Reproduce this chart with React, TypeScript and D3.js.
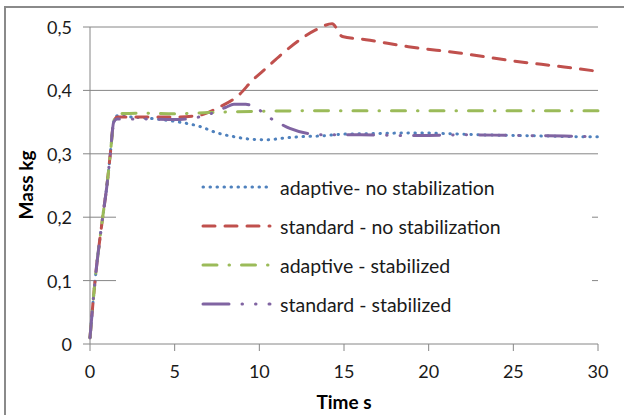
import React from "react";
import * as d3 from "d3";

const seriesNames = [
  "adaptive- no stabilization",
  "standard - no stabilization",
  "adaptive - stabilized",
  "standard - stabilized",
];

const adaptiveNoStabT = [0, 0.3, 0.75, 1.0, 1.2, 1.4, 1.6, 2.5, 3.5, 4.5, 5.5, 6.5, 7.5, 8.5, 9.5, 10.4, 11.5, 12.5, 13.5, 15, 17, 19, 21, 23, 25, 27, 29, 30];
const adaptiveNoStabV = [0.01, 0.1, 0.2, 0.25, 0.3, 0.35, 0.36, 0.358, 0.356, 0.353, 0.349, 0.343, 0.333, 0.327, 0.323, 0.322, 0.325, 0.327, 0.328, 0.331, 0.332, 0.333, 0.332, 0.33, 0.329, 0.328, 0.327, 0.327];

const standardNoStabT = [0, 0.3, 0.75, 1.0, 1.2, 1.4, 1.6, 3, 5, 6.5, 7.5, 8.8, 9.6, 10.4, 11.4, 12.4, 13.3, 14.3, 14.9, 16.3, 18.8, 21.8, 25.1, 28, 30];
const standardNoStabV = [0.01, 0.1, 0.2, 0.25, 0.3, 0.35, 0.358, 0.358, 0.358, 0.361, 0.372, 0.393, 0.416, 0.435, 0.459, 0.48, 0.495, 0.505, 0.485, 0.48, 0.469, 0.459, 0.446, 0.437, 0.43];

const adaptiveStabT = [0, 0.3, 0.75, 1.0, 1.2, 1.4, 1.6, 3, 5, 7, 10, 15, 20, 25, 30];
const adaptiveStabV = [0.01, 0.1, 0.2, 0.25, 0.3, 0.35, 0.363, 0.364, 0.363, 0.365, 0.367, 0.368, 0.368, 0.368, 0.368];

const standardStabT = [0, 0.3, 0.75, 1.0, 1.2, 1.4, 1.6, 3, 5, 6, 7, 8, 8.5, 9.2, 10, 10.6, 11.2, 11.8, 12.9, 14, 16, 18, 20, 22, 25, 28, 30];
const standardStabV = [0.01, 0.1, 0.2, 0.25, 0.3, 0.35, 0.355, 0.355, 0.354, 0.356, 0.362, 0.373, 0.378, 0.378, 0.369, 0.357, 0.348, 0.34, 0.332, 0.33, 0.33, 0.329, 0.329, 0.33, 0.329, 0.328, 0.327];

const xTicks = [0, 5, 10, 15, 20, 25, 30];
const yTicks = [0, 0.1, 0.2, 0.3, 0.4, 0.5];
const xTickLabels = ["0", "5", "10", "15", "20", "25", "30"];
const yTickLabels = ["0", "0,1", "0,2", "0,3", "0,4", "0,5"];

const colors = ["#4F81BD", "#C0504D", "#9BBB59", "#8064A2"];
const dashes = ["0.5 6.5", "12 10", "14 12 0.5 12", "26 13 0.5 13 0.5 13"];

const FONT = "Lato, 'DejaVu Sans', sans-serif";

export default function App() {
  const W = 624, H = 415;
  const x = d3.scaleLinear().domain([0, 30]).range([90, 598]);
  const y = d3.scaleLinear().domain([0, 0.5]).range([344, 27]);
  const times = [adaptiveNoStabT, standardNoStabT, adaptiveStabT, standardStabT];
  const vals = [adaptiveNoStabV, standardNoStabV, adaptiveStabV, standardStabV];
  const line = d3
    .line<[number, number]>()
    .x((d) => x(d[0]))
    .y((d) => y(d[1]))
    .curve(d3.curveMonotoneX);
  const legendY = [187, 226, 265, 304];
  const grey = "#868686";

  return (
    <svg
      width={W}
      height={H}
      style={{ position: "absolute", left: 0, top: 0, background: "#fff" }}
      fontFamily={FONT}
    >
      <rect x={0} y={0} width={W} height={H} fill="#fff" />
      <rect x={5} y={7} width={W + 20} height={H + 20} fill="none" stroke="#8a8a8a" strokeWidth={2} />
      {yTicks.map((t) =>
        t === 0 ? null : (
          <line key={"g" + t} x1={x(0)} x2={x(30)} y1={y(t)} y2={y(t)} stroke={grey} strokeWidth={1} />
        )
      )}
      <line x1={x(0)} x2={x(0)} y1={y(0)} y2={y(0.5)} stroke={grey} strokeWidth={1} />
      <line x1={x(0)} x2={x(30)} y1={y(0)} y2={y(0)} stroke={grey} strokeWidth={1} />
      {yTicks.map((t, i) => (
        <g key={"yt" + t}>
          <line x1={x(0) - 7} x2={x(0)} y1={y(t)} y2={y(t)} stroke={grey} strokeWidth={1} />
          <text x={72} y={y(t)} textAnchor="end" dominantBaseline="central" fontSize={18} fill="#1a1a1a">
            {yTickLabels[i]}
          </text>
        </g>
      ))}
      {xTicks.map((t, i) => (
        <g key={"xt" + t}>
          <line x1={x(t)} x2={x(t)} y1={y(0)} y2={y(0) + 7} stroke={grey} strokeWidth={1} />
          <text x={x(t)} y={371} textAnchor="middle" dominantBaseline="central" fontSize={18} fill="#1a1a1a">
            {xTickLabels[i]}
          </text>
        </g>
      ))}
      {times.map((ts, si) => (
        <path
          key={"s" + si}
          d={line(ts.map((t, j) => [t, vals[si][j]] as [number, number])) || ""}
          fill="none"
          stroke={colors[si]}
          strokeWidth={3}
          strokeDasharray={dashes[si]}
          strokeLinecap="round"
          strokeLinejoin="round"
        />
      ))}
      <rect x={116} y={162} width={476} height={162} fill="#fff" />
      {seriesNames.map((n, i) => (
        <g key={"l" + i}>
          <line
            x1={203}
            x2={270}
            y1={legendY[i]}
            y2={legendY[i]}
            stroke={colors[i]}
            strokeWidth={3}
            strokeDasharray={dashes[i]}
            strokeLinecap="round"
          />
          <text x={280} y={legendY[i]} dominantBaseline="central" fontSize={19.5} fill="#1a1a1a">
            {n}
          </text>
        </g>
      ))}
      <text x={344} y={401} textAnchor="middle" dominantBaseline="central" fontSize={19} fontWeight="bold" fill="#000">
        Time s
      </text>
      <text
        transform={`translate(25,185) rotate(-90)`}
        textAnchor="middle"
        dominantBaseline="central"
        fontSize={19}
        fontWeight="bold"
        fill="#000"
      >
        Mass kg
      </text>
    </svg>
  );
}
